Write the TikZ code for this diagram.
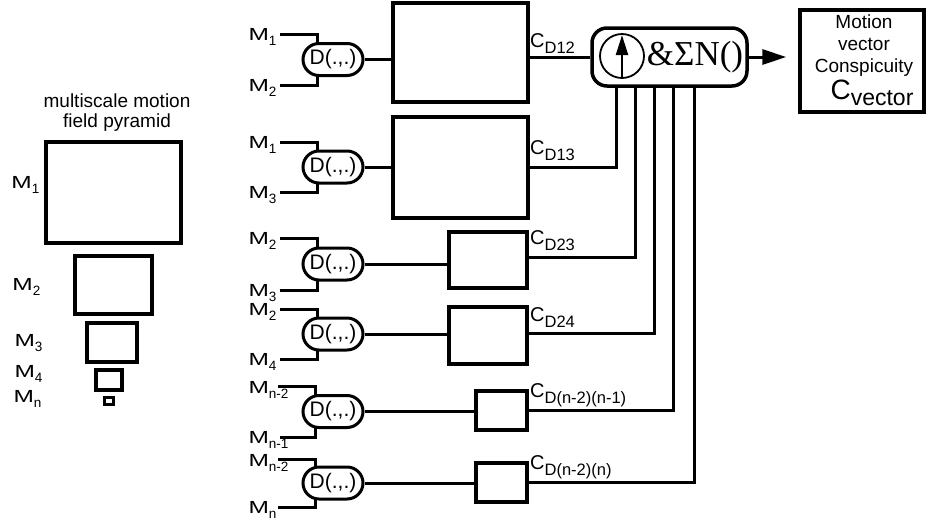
\documentclass[tikz,border=0pt]{standalone}
\usepackage{fontspec}
\usepackage{graphicx}
\setmainfont{Liberation Sans}
\newfontfamily\serifTimes{Liberation Serif}
\usetikzlibrary{shapes.misc,arrows.meta}
\pgfdeclarelayer{bg}
\pgfsetlayers{bg,main}
\newcommand\Msub[1]{\scalebox{1.4}[1]{M}\raisebox{-5pt}{\fontsize{13.5}{14}\selectfont #1}}
\newcommand\Csub[1]{C\raisebox{-6pt}{\fontsize{16.5}{17}\selectfont #1}}
\begin{document}
\begin{tikzpicture}[x=1pt,y=-1pt, line width=3pt,
  mlab/.style={font=\fontsize{17.5}{18}\selectfont, inner sep=0pt, anchor=base west},
  clab/.style={font=\fontsize{20}{20}\selectfont, inner sep=0pt, anchor=base west},
  dop/.style={rounded rectangle, draw, fill=white, minimum width=60pt, minimum height=32pt, inner sep=0pt, font=\fontsize{21}{22}\selectfont, line width=3pt},
  blk/.style={draw, line width=3.5pt, inner sep=0pt},
  pyr/.style={line width=3.5pt},
  wire/.style={line width=3pt},
  ]
\useasboundingbox (0,0) rectangle (927,523);

% ---------- pyramid ----------
\node[font=\fontsize{19}{20}\selectfont, align=center, inner sep=0pt] (ptitle) at (117,113) {multiscale motion\\field pyramid};
\draw[pyr] (46,142) rectangle (181,243);
\draw[pyr] (75,256) rectangle (152,314);
\draw[pyr] (87,323) rectangle (137,362);
\draw[pyr] (96,370) rectangle (122,390);
\draw[line width=3pt] (104,397) rectangle (113,404);
\node[mlab] (pm1) at (10,188) {\Msub{1}};
\node[mlab] (pm2) at (11,290) {\Msub{2}};
\node[mlab] (pm3) at (13,346) {\Msub{3}};
\node[mlab] (pm4) at (13,377) {\Msub{4}};
\node[mlab] (pmn) at (12,402) {\Msub{n}};

% ---------- distance operators ----------
\node[dop] (d1) at (333,59.5) {D(.,.)};
\node[dop] (d2) at (333,167) {D(.,.)};
\node[dop] (d3) at (333,264) {D(.,.)};
\node[dop] (d4) at (333,334) {D(.,.)};
\node[dop] (d5) at (333,411.5) {D(.,.)};
\node[dop] (d6) at (333,483) {D(.,.)};

% input labels
\node[mlab] (a1) at (247,40) {\Msub{1}};
\node[mlab] (c1) at (247,91) {\Msub{2}};
\node[mlab] (a2) at (247,148) {\Msub{1}};
\node[mlab] (c2) at (247,198) {\Msub{3}};
\node[mlab] (a3) at (247,244) {\Msub{2}};
\node[mlab] (c3) at (247,296) {\Msub{3}};
\node[mlab] (a4) at (247,315) {\Msub{2}};
\node[mlab] (c4) at (247,365) {\Msub{4}};
\node[mlab] (a5) at (247,393) {\Msub{n-2}};
\node[mlab] (c5) at (247,443) {\Msub{n-1}};
\node[mlab] (a6) at (247,466) {\Msub{n-2}};
\node[mlab] (c6) at (247,513) {\Msub{n}};

\coordinate (t1) at (280,34);  \coordinate (u1) at (280,85);  \coordinate (j1) at (317,59.5);
\coordinate (t2) at (280,142); \coordinate (u2) at (280,192); \coordinate (j2) at (317,167);
\coordinate (t3) at (280,238); \coordinate (u3) at (280,290); \coordinate (j3) at (317,264);
\coordinate (t4) at (280,309); \coordinate (u4) at (280,359); \coordinate (j4) at (317,334);
\coordinate (t5) at (278,386); \coordinate (u5) at (280,437); \coordinate (j5) at (315,411.5);
\coordinate (t6) at (278,459); \coordinate (u6) at (278,507); \coordinate (j6) at (315,483);

\begin{pgfonlayer}{bg}
\foreach \i in {1,...,6} {\draw[wire] (t\i) -| (j\i) |- (u\i);}
\end{pgfonlayer}

% ---------- blocks ----------
\node[blk, minimum width=135pt, minimum height=99pt] (b1) at (460.5,52.5) {};
\node[blk, minimum width=135pt, minimum height=101pt] (b2) at (460.5,167.5) {};
\node[blk, minimum width=78pt, minimum height=56pt] (b3) at (488,260) {};
\node[blk, minimum width=78pt, minimum height=57pt] (b4) at (488,335.5) {};
\node[blk, minimum width=51pt, minimum height=39pt] (b5) at (501.5,410.5) {};
\node[blk, minimum width=51pt, minimum height=39pt] (b6) at (501.5,482.5) {};

\foreach \i in {1,...,6} {\draw[wire] (d\i.east) -- (d\i.east -| b\i.west);}

% ---------- accumulator ----------
\node[draw, rounded corners=15pt, line width=3.5pt, minimum width=155pt, minimum height=58pt, inner sep=0pt] (acc) at (669.5,57) {};
\node[circle, draw, line width=1.8pt, minimum size=44pt, inner sep=0pt] (circ) at (622,56) {};
\draw[line width=2.5pt, -{Triangle[length=20pt,width=12pt]}, shorten >=2pt] (circ.south) -- (circ.north);
\node[font=\serifTimes\fontsize{35}{36}\selectfont, inner sep=0pt] (sig) at (695,57) {\&ΣN()};

% outputs
\coordinate (o2) at (528,167); \coordinate (v2) at (616,86);
\coordinate (o3) at (528,257); \coordinate (v3) at (635,86);
\coordinate (o4) at (528,333); \coordinate (v4) at (654,86);
\coordinate (o5) at (528,410); \coordinate (v5) at (673,86);
\coordinate (o6) at (528,482); \coordinate (v6) at (694,86);
\draw[wire] (b1.east |- acc.west) -- (acc.west);
\foreach \i in {2,...,6} {\draw[wire] (o\i) -| (v\i);}

\node[clab] (k1) at (530,47) {\Csub{D12}};
\node[clab] (k2) at (530,154) {\Csub{D13}};
\node[clab] (k3) at (530,244) {\Csub{D23}};
\node[clab] (k4) at (530,321) {\Csub{D24}};
\node[clab] (k5) at (530,397) {\Csub{D(n-2)(n-1)}};
\node[clab] (k6) at (530,469) {\Csub{D(n-2)(n)}};

% ---------- output ----------
\node[blk, minimum width=124pt, minimum height=102pt] (out) at (862,61) {};
\draw[line width=3pt, -{Triangle[length=24pt,width=15pt]}, shorten >=12pt] (acc.east) -- (acc.east -| out.west);
\node[font=\fontsize{19}{22}\selectfont, align=center, inner sep=0pt, anchor=north] (otxt) at (864,15) {Motion\\vector\\Conspicuity};
\node[inner sep=0pt, anchor=base] (cvec) at (872,99) {{\fontsize{28}{28}\selectfont C}\raisebox{-6pt}{\fontsize{23}{23}\selectfont vector}};
\end{tikzpicture}
\end{document}
